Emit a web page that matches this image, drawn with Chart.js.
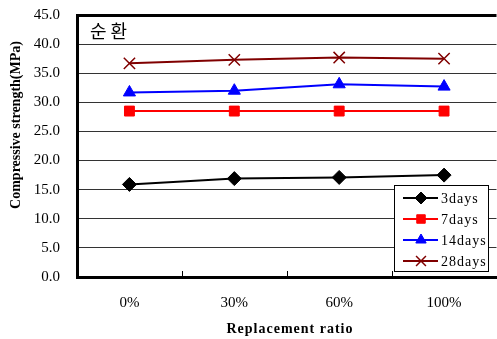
<!DOCTYPE html>
<html>
<head>
<meta charset="utf-8">
<script src="https://cdn.jsdelivr.net/npm/chart.js@4.4.0/dist/chart.umd.min.js"></script>
<style>
  html, body { margin: 0; padding: 0; background: #fff; overflow: hidden; }
  #wrap { width: 506px; height: 339px; }
</style>
</head>
<body>
<div id="wrap"><canvas id="strengthChart" width="506" height="339"></canvas></div>
<script>
// Compressive strength vs replacement ratio

const categories = ['0%', '30%', '60%', '100%'];
const days3 = [15.9, 16.9, 17.1, 17.5];
const days7 = [28.5, 28.5, 28.5, 28.5];
const days14 = [31.7, 32.0, 33.1, 32.7];
const days28 = [36.7, 37.3, 37.7, 37.5];
const seriesLabels = ['3days', '7days', '14days', '28days'];

const serif = "'Liberation Serif', 'Times New Roman', serif";

function makeSet(label, data, color, style, radius) {
    return {
        label: label,
        data: data,
        borderColor: color,
        backgroundColor: color,
        borderWidth: 2,
        pointStyle: style,
        pointRadius: radius,
        pointBorderWidth: style === 'crossRot' ? 1.5 : 1,
        pointBorderColor: color,
        pointBackgroundColor: color,
        tension: 0
    };
}

const datasets = [
    makeSet(seriesLabels[0], days3, '#000000', 'rectRot', 7),
    makeSet(seriesLabels[1], days7, '#ff0000', 'rect', 7),
    makeSet(seriesLabels[2], days14, '#0000ff', 'triangle', 7),
    makeSet(seriesLabels[3], days28, '#800000', 'crossRot', 8)
];

// tick marks, label text and axis titles
const extrasPlugin = {
    id: 'extras',
    afterDraw(chart) {
        const ctx = chart.ctx;
        const x = chart.scales.x;
        const area = chart.chartArea;
        ctx.save();
        ctx.strokeStyle = '#000';
        ctx.lineWidth = 1;
        for (let i = 0; i < categories.length - 1; i++) {
            const px = Math.round((x.getPixelForValue(i) + x.getPixelForValue(i + 1)) / 2) + 0.5;
            ctx.beginPath();
            ctx.moveTo(px, area.bottom);
            ctx.lineTo(px, area.bottom - 6);
            ctx.stroke();
        }
        ctx.fillStyle = '#000';
        ctx.font = "18px 'Noto Sans CJK KR'";
        ctx.textBaseline = 'middle';
        ctx.fillText('순 환', area.left + 13, 31);

        // axis titles
        ctx.font = 'bold 14px ' + serif;
        ctx.textAlign = 'center';
        ctx.letterSpacing = '1px';
        ctx.fillText('Replacement ratio', 290, 329);
        ctx.letterSpacing = '0px';
        ctx.translate(16, 125);
        ctx.rotate(-Math.PI / 2);
        ctx.fillText('Compressive strength(MPa)', 0, 0);
        ctx.restore();
    }
};

// legend box in the lower right corner of the plot
const legendPlugin = {
    id: 'boxLegend',
    afterDraw(chart) {
        const ctx = chart.ctx;
        const bx = 394, by = 185, bw = 94, bh = 86;
        ctx.save();
        ctx.fillStyle = '#fff';
        ctx.fillRect(bx, by, bw, bh);
        ctx.strokeStyle = '#000';
        ctx.lineWidth = 1;
        ctx.strokeRect(bx + 0.5, by + 0.5, bw, bh);
        chart.data.datasets.forEach((ds, i) => {
            const y = by + 13 + i * 21;
            ctx.strokeStyle = ds.borderColor;
            ctx.lineWidth = 2;
            ctx.beginPath();
            ctx.moveTo(403, y);
            ctx.lineTo(438, y);
            ctx.stroke();
            ctx.fillStyle = ds.backgroundColor;
            ctx.lineWidth = ds.pointBorderWidth;
            Chart.helpers.drawPoint(ctx, {
                pointStyle: ds.pointStyle,
                radius: ds.pointStyle === 'crossRot' ? 7 : 6,
                rotation: 0,
                borderWidth: ds.pointBorderWidth
            }, 421, y);
            ctx.fillStyle = '#000';
            ctx.font = '14px ' + serif;
            ctx.textBaseline = 'middle';
            ctx.letterSpacing = '1px';
            ctx.fillText(ds.label, 441, y + 1);
        });
        ctx.restore();
    }
};

const ctx = document.getElementById('strengthChart').getContext('2d');
new Chart(ctx, {
    type: 'line',
    data: {
        labels: categories,
        datasets: datasets
    },
    options: {
        responsive: false,
        animation: false,
        layout: { padding: { top: 15, right: 2, left: 0, bottom: 0 } },
        plugins: {
            legend: { display: false },
            tooltip: { enabled: false }
        },
        scales: {
            x: {
                offset: true,
                afterFit: function(scale) {
                    scale.height = 62;
                    scale.paddingLeft = 0;
                    scale.paddingRight = 0;
                },
                grid: { display: false },
                border: { display: true, color: '#000', width: 3 },
                ticks: {
                    color: '#000',
                    padding: 9,
                    font: { family: serif, size: 15 }
                }
            },
            y: {
                min: 0,
                max: 45,
                afterFit: function(scale) {
                    scale.width = 77;
                    scale.paddingTop = 0;
                    scale.paddingBottom = 0;
                },
                ticks: {
                    stepSize: 5,
                    color: '#000',
                    padding: 17,
                    font: { family: serif, size: 15 },
                    callback: function(value) { return value.toFixed(1); }
                },
                grid: {
                    drawTicks: false,
                    color: function(c) {
                        return c.tick.value === 45 ? '#000' : '#333';
                    },
                    lineWidth: function(c) {
                        return c.tick.value === 45 ? 3 : 1;
                    }
                },
                border: { display: true, color: '#000', width: 3 }
            }
        }
    },
    plugins: [extrasPlugin, legendPlugin]
});
</script>
</body>
</html>
